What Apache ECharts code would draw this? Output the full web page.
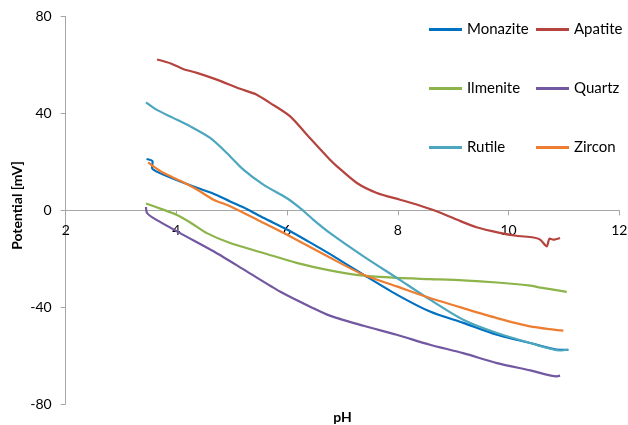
<!DOCTYPE html>
<html>
<head>
<meta charset="utf-8">
<script src="https://cdn.jsdelivr.net/npm/echarts@6/dist/echarts.min.js"></script>
<style>html,body{margin:0;padding:0;background:#fff;}#c{width:628px;height:425px;}</style>
</head>
<body>
<div id="c"></div>
<script>
const xTicks = [2, 4, 6, 8, 10, 12];
const yTicks = [-80, -40, 0, 40, 80];
const seriesNames = ['Monazite', 'Apatite', 'Ilmenite', 'Quartz', 'Rutile', 'Zircon'];

const monazitePH = [3.46,3.57,3.56,3.62,3.76,4.06,4.37,4.67,4.97,5.27,5.57,5.99,6.38,6.77,7.38,7.98,8.58,9.18,9.79,10.39,10.93,11.08];
const monaziteMV = [21.2,20.2,17.5,16.3,14.8,12.0,9.3,6.9,3.7,0.6,-3.1,-7.8,-12.8,-18.0,-26.6,-34.8,-41.8,-46.5,-51.4,-54.8,-57.6,-57.6];

const apatitePH = [3.65,3.91,4.12,4.37,4.73,5.15,5.45,5.69,6.05,6.41,6.77,6.90,7.26,7.62,8.04,8.34,8.70,9.06,9.42,9.84,10.14,10.45,10.57,10.69,10.74,10.81,10.93];
const apatiteMV = [62.3,60.6,58.4,56.8,54.0,50.2,47.8,44.4,38.9,29.9,21.0,18.2,11.3,7.2,4.4,2.4,-0.4,-3.8,-7.0,-9.3,-10.5,-11.2,-12.1,-14.9,-11.7,-12.1,-11.4];

const ilmenitePH = [3.45,3.76,4.00,4.25,4.55,4.97,5.57,6.17,6.77,7.38,7.98,8.58,9.18,9.79,10.39,10.55,11.05];
const ilmeniteMV = [2.8,0.3,-1.8,-5.0,-9.4,-13.5,-17.6,-21.7,-24.8,-27.0,-27.9,-28.4,-28.9,-29.8,-31.1,-31.8,-33.7];

const quartzPH = [3.45,3.47,3.58,4.06,4.67,5.27,5.87,6.47,6.77,7.38,7.98,8.58,9.18,9.79,10.39,10.87,10.93];
const quartzMV = [1.4,-1.1,-3.1,-9.3,-16.9,-25.2,-33.5,-40.4,-43.5,-47.7,-51.4,-55.5,-59.0,-63.1,-66.1,-68.6,-68.3];

const rutilePH = [3.45,3.64,3.94,4.25,4.61,4.91,5.21,5.57,5.99,6.23,6.47,6.77,7.38,7.98,8.58,9.18,9.79,10.39,10.93,11.08];
const rutileMV = [44.6,41.6,38.2,34.7,29.9,23.7,16.8,10.6,5.1,1.0,-3.8,-9.3,-19.0,-27.9,-36.9,-45.2,-50.7,-54.8,-57.9,-57.6];

const zirconPH = [3.49,3.58,3.76,4.06,4.37,4.67,4.97,5.45,5.99,6.77,7.38,7.98,8.58,9.18,9.79,10.39,10.99];
const zirconMV = [19.8,18.2,15.5,12.3,8.6,4.4,1.7,-3.8,-10.0,-19.5,-26.6,-31.4,-36.2,-40.4,-44.5,-47.9,-49.7];

const colors = ['#0070C0', '#B5443F', '#8DB44A', '#7258A0', '#4BA6BE', '#ED7D31'];
const FONT = 'Lato, "Open Sans", sans-serif';

function pairs(xs, ys) { return xs.map((x, i) => [x, ys[i]]); }
const seriesData = [
  pairs(monazitePH, monaziteMV),
  pairs(apatitePH, apatiteMV),
  pairs(ilmenitePH, ilmeniteMV),
  pairs(quartzPH, quartzMV),
  pairs(rutilePH, rutileMV),
  pairs(zirconPH, zirconMV)
];

const GRID_TOP = 16.7, GRID_BOTTOM = 21, H = 425;
const plotH = H - GRID_TOP - GRID_BOTTOM;
const yMin = yTicks[0], yMax = yTicks[yTicks.length - 1];
// x axis sits where y = 0 (distance from grid bottom up to the zero line)
const zeroOffset = plotH * (0 - yMin) / (yMax - yMin);

const legendStyle = {
  orient: 'vertical', top: 22, itemGap: 44, padding: 0,
  itemWidth: 33, itemHeight: 3, icon: 'rect',
  textStyle: {fontFamily: FONT, fontSize: 15, color: '#000'}
};

const chart = echarts.init(document.getElementById('c'), null, {renderer: 'canvas'});
chart.setOption({
  animation: false,
  backgroundColor: '#fff',
  grid: {left: 65.7, right: 8.7, top: GRID_TOP, bottom: GRID_BOTTOM, containLabel: false, outerBoundsMode: 'none'},
  legend: [
    Object.assign({data: ['Monazite', 'Ilmenite', 'Rutile'], left: 429}, legendStyle),
    Object.assign({data: ['Apatite', 'Quartz', 'Zircon'], left: 536}, legendStyle)
  ],
  xAxis: {
    type: 'value', min: xTicks[0], max: xTicks[xTicks.length - 1], interval: 2,
    offset: -zeroOffset,
    axisLine: {show: true, onZero: false, lineStyle: {color: '#A6A6A6', width: 1}},
    axisTick: {show: true, length: 5, lineStyle: {color: '#A6A6A6'}},
    axisLabel: {fontFamily: FONT, fontSize: 14, color: '#000', margin: 13},
    splitLine: {show: false}
  },
  yAxis: {
    type: 'value', min: yMin, max: yMax, interval: 40,
    axisLine: {show: true, lineStyle: {color: '#A6A6A6', width: 1}},
    axisTick: {show: true, length: 5, lineStyle: {color: '#A6A6A6'}},
    axisLabel: {fontFamily: FONT, fontSize: 14, color: '#000', margin: 14},
    splitLine: {show: false}
  },
  visualMap: {
    show: false, type: 'piecewise', seriesIndex: 4, dimension: 0,
    pieces: [
      {lt: 6.1, color: colors[4]},
      {gte: 6.1, lt: 6.75, color: '#00B0F0'},
      {gte: 6.75, color: colors[4]}
    ]
  },
  graphic: [
    {type: 'text', x: 342.5, y: 417,
     style: {text: 'pH', fontFamily: FONT, fontSize: 14, fontWeight: 'bold', fill: '#000', align: 'center', verticalAlign: 'middle'}},
    {type: 'text', x: 17, y: 205.5, rotation: Math.PI / 2,
     style: {text: 'Potential [mV]', fontFamily: FONT, fontSize: 14, fontWeight: 'bold', fill: '#000', align: 'center', verticalAlign: 'middle'}}
  ],
  series: seriesNames.map((n, i) => ({
    name: n, type: 'line', data: seriesData[i], showSymbol: false, symbol: 'none',
    smooth: 0.25, itemStyle: {color: colors[i]},
    lineStyle: {color: colors[i], width: 2.2}
  }))
});
</script>
</body>
</html>
